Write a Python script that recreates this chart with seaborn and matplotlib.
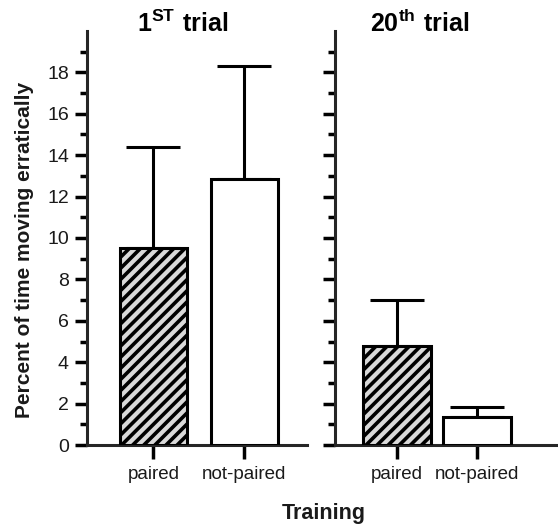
import matplotlib
matplotlib.use("Agg")
import matplotlib.pyplot as plt
import seaborn as sns
import pandas as pd
import numpy as np

# ---- data ----
trials = ["1ST trial", "20th trial"]
groups = ["paired", "not-paired"]
means_1st = [9.5, 12.85]
sems_1st = [4.9, 5.45]
means_20th = [4.8, 1.35]
sems_20th = [2.2, 0.5]
y_ticks = [0, 2, 4, 6, 8, 10, 12, 14, 16, 18]

sns.set_theme(style="ticks")
plt.rcParams['font.family'] = ['Liberation Sans', 'DejaVu Sans']
plt.rcParams['mathtext.fontset'] = 'custom'
plt.rcParams['mathtext.rm'] = 'Liberation Sans'
plt.rcParams['mathtext.bf'] = 'Liberation Sans:bold'
plt.rcParams['hatch.linewidth'] = 2.6

W, H = 558, 525
fig = plt.figure(figsize=(W / 100, H / 100), dpi=100)

def px_axes(x0, x1, ytop, ybot):
    return fig.add_axes([x0 / W, 1 - ybot / H, (x1 - x0) / W, (ybot - ytop) / H])

ax1 = px_axes(87, 307, 31, 445)
ax2 = px_axes(335, 558, 31, 445)

face = {"paired": "#d9d9d9", "not-paired": "white"}
lw = 2.2
txt = "#1a1a1a"

panels = [
    (ax1, means_1st, sems_1st, 0.736, (-0.73, 1.69)),
    (ax2, means_20th, sems_20th, 0.85, (-0.775, 2.01)),
]

for ax, means, sems, width, xl in panels:
    df = pd.DataFrame({"group": groups, "mean": means, "sem": sems})
    sns.barplot(data=df, x="group", y="mean", hue="group", palette=face,
                width=width, edgecolor="black", linewidth=lw, errorbar=None,
                legend=False, ax=ax, zorder=3)
    for p, g in zip(ax.patches, groups):
        if g == "paired":
            p.set_hatch("///")
    ax.errorbar(np.arange(len(groups)), df["mean"],
                yerr=[np.zeros(len(groups)), df["sem"]],
                fmt="none", ecolor="black", elinewidth=lw, capsize=19.5,
                capthick=lw, zorder=2)
    ax.set_xlim(*xl)
    ax.set_ylim(0, 20)
    ax.set_yticks(y_ticks)
    ax.set_yticks(np.arange(1, 20, 2), minor=True)
    ax.set_xlabel("")
    ax.set_ylabel("")
    sns.despine(ax=ax, top=True, right=True)
    for s in ["left", "bottom"]:
        ax.spines[s].set_linewidth(2.2)
    ax.tick_params(axis="y", which="major", length=9, width=2.5, labelsize=14, pad=4,
                   color="black", labelcolor=txt)
    ax.tick_params(axis="y", which="minor", length=5, width=2.5, color="black")
    ax.tick_params(axis="x", which="major", length=10, width=2.5, labelsize=13.5, pad=5,
                   color="black", labelcolor=txt)
    ax.set_facecolor("none")

ax2.tick_params(axis="y", which="both", labelleft=False)

fig.text(183 / W, 1 - 32 / H, r"$\mathbf{1^{ST}\ trial}$", ha="center", va="baseline",
         fontsize=18, color="black")
fig.text(420 / W, 1 - 32 / H, r"$\mathbf{20^{th}\ trial}$", ha="center", va="baseline",
         fontsize=18, color="black")
fig.text(25 / W, 1 - 250 / H, "Percent of time moving erratically", rotation=90,
         ha="center", va="center", fontsize=15, fontweight="bold", color=txt)
fig.text(324 / W, 1 - 513 / H, "Training", ha="center", va="center",
         fontsize=15.5, fontweight="bold", color=txt)

fig.savefig("out.png", dpi=100)
